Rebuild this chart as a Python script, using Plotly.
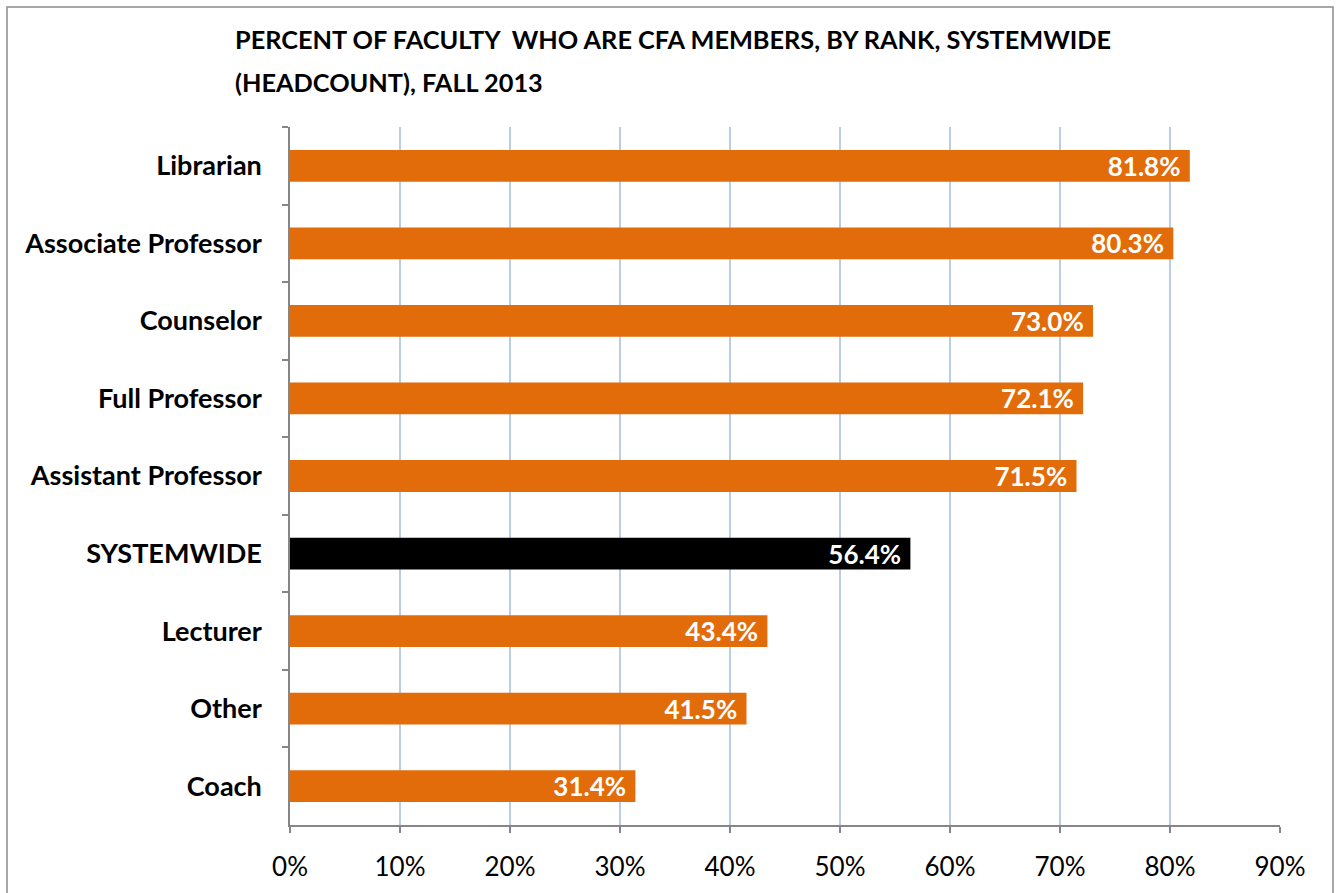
import plotly.graph_objects as go

categories = ["Librarian", "Associate Professor", "Counselor", "Full Professor",
              "Assistant Professor", "SYSTEMWIDE", "Lecturer", "Other", "Coach"]
values = [81.8, 80.3, 73.0, 72.1, 71.5, 56.4, 43.4, 41.5, 31.4]
labels = ["81.8%", "80.3%", "73.0%", "72.1%", "71.5%", "56.4%", "43.4%", "41.5%", "31.4%"]
tick_vals = [0, 10, 20, 30, 40, 50, 60, 70, 80, 90]
tick_text = ["0%", "10%", "20%", "30%", "40%", "50%", "60%", "70%", "80%", "90%"]
title_lines = ["PERCENT OF FACULTY  WHO ARE CFA MEMBERS, BY RANK, SYSTEMWIDE",
               "(HEADCOUNT), FALL 2013"]

ORANGE = "#E36C0A"
colors = ["#000000" if c == "SYSTEMWIDE" else ORANGE for c in categories]

FONT = "Lato, 'Open Sans', sans-serif"

fig = go.Figure(go.Bar(
    x=values, y=categories, orientation="h",
    marker=dict(color=colors, line=dict(width=0)),
    text=labels, texttemplate="%{text}\u00a0",
    textposition="inside", insidetextanchor="end", constraintext="none",
    textfont=dict(color="white", size=26, family=FONT, weight="bold"),
    cliponaxis=False,
))

W, H = 1340, 893
L, R, T, B = 290, 60, 127, 68
pw, ph = W - L - R, H - T - B

def px2x(p):
    return (p - L) / pw

def py2y(p):
    return (H - B - p) / ph

fig.update_layout(
    width=W, height=H,
    margin=dict(l=L, r=R, t=T, b=B),
    paper_bgcolor="white", plot_bgcolor="white",
    bargap=0.59,
    showlegend=False,
    font=dict(family=FONT, color="black"),
    title=dict(
        text="<span style='font-size:25.3px'>" + title_lines[0] + "</span><br>"
             "<span style='font-size:25.3px'>" + title_lines[1] + "</span>",
        x=235 / W, xanchor="left", xref="container",
        y=1 - 49 / H, yanchor="top", yref="container",
        font=dict(size=33, family=FONT, color="black", weight="bold"),
    ),
    xaxis=dict(
        range=[0, 90], tickvals=tick_vals, ticktext=tick_text,
        showgrid=True, gridcolor="#B9CDE5", gridwidth=1.5,
        showline=True, linecolor="#868686", linewidth=1.5,
        ticks="outside", ticklen=6, tickcolor="#868686", tickwidth=1.5,
        tickfont=dict(size=26, family=FONT, color="black"),
        ticklabelstandoff=12,
        zeroline=False, fixedrange=True,
    ),
    yaxis=dict(
        autorange="reversed", tickson="boundaries",
        showgrid=False, showline=True, linecolor="#868686", linewidth=1.5,
        ticks="outside", ticklen=6, tickcolor="#868686", tickwidth=1.5,
        tickfont=dict(size=27, family=FONT, color="black", weight="bold"),
        ticklabelstandoff=21,
        fixedrange=True,
    ),
    shapes=[dict(
        type="rect", xref="paper", yref="paper",
        x0=px2x(7), x1=px2x(1333), y0=py2y(905), y1=py2y(7),
        line=dict(color="#8C8C8C", width=1.5), fillcolor="rgba(0,0,0,0)", layer="below",
    )],
)

fig.write_html("out.html", config={"displayModeBar": False},
               post_script="document.body.style.margin='0';")
